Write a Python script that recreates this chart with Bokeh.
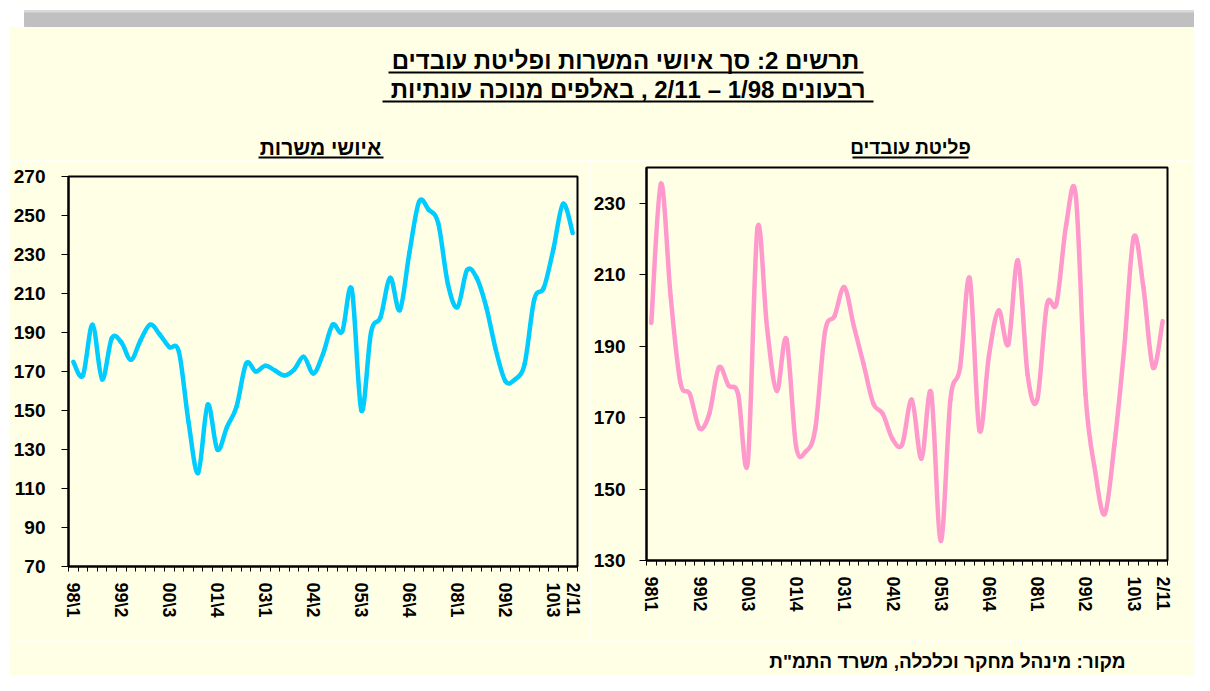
from bokeh.plotting import figure
from bokeh.layouts import column, row
from bokeh.models import Range1d, FixedTicker, Spacer
from bokeh.core.properties import value
from bokeh.embed import file_html
from bokeh.resources import INLINE

# ---------------- data ----------------
title_line1 = "תרשים 2: סך איושי המשרות ופליטת עובדים"
title_line2 = "רבעונים 1/98 – 2/11 , באלפים מנוכה עונתיות"
left_title = "איושי משרות"
right_title = "פליטת עובדים"
source_text = 'מקור: מינהל מחקר וכלכלה, משרד התמ"ת'

tick_labels = ["98\\1", "99\\2", "00\\3", "01\\4", "03\\1", "04\\2",
               "05\\3", "06\\4", "08\\1", "09\\2", "10\\3", "2/11"]

# איושי משרות (thousands, seasonally adjusted)
staffing = [175, 168, 194, 166, 187, 185, 176, 186, 194, 189,
            182.5, 180, 144, 118, 153, 130, 141.5, 152, 174, 170,
            173, 170.5, 168, 171, 177.5, 169, 179, 194, 190.5, 212,
            150, 190, 198, 218, 201.5, 231, 257, 253, 246, 215,
            203, 222, 218, 203, 181, 165, 166, 174, 207, 213,
            233, 256, 241]

# פליטת עובדים (thousands, seasonally adjusted)
layoffs = [196.5, 235.5, 204, 180, 176.5, 167, 171, 184, 179, 176.5,
           157.5, 223, 195, 177.5, 192, 162, 160.5, 167, 194, 198.5,
           206.5, 195.5, 185, 174, 171, 164, 162.5, 175, 158.5, 177,
           135.5, 175, 184, 209, 166.5, 187.5, 200, 190.5, 214, 182,
           175, 201.5, 202, 224, 232, 176.5, 155, 143, 162.5, 189,
           220.5, 206.5, 184, 197]

staffing_yticks = list(range(70, 271, 20))
layoffs_yticks = list(range(130, 231, 20))

# ---------------- style ----------------
BG = "#FFFFE6"
FONT = "Liberation Sans"
CYAN = "#00CCFF"
PINK = "#FF99CC"
W = 1185     # content width (page x 9 .. 1194)


def smooth(ys):
    n = len(ys)
    xs = list(range(n))
    d = dict(x0=[], y0=[], x1=[], y1=[], cx0=[], cy0=[], cx1=[], cy1=[])
    for i in range(n - 1):
        a = i - 1 if i > 0 else i
        b = i + 2 if i + 2 < n else i + 1
        d["x0"].append(xs[i]); d["y0"].append(ys[i])
        d["x1"].append(xs[i + 1]); d["y1"].append(ys[i + 1])
        d["cx0"].append(xs[i] + (xs[i + 1] - xs[a]) / 6.0)
        d["cy0"].append(ys[i] + (ys[i + 1] - ys[a]) / 6.0)
        d["cx1"].append(xs[i + 1] - (xs[b] - xs[i]) / 6.0)
        d["cy1"].append(ys[i + 1] - (ys[b] - ys[i]) / 6.0)
    return d


def chart(data, yticks, ymin, ymax, color, width, height, bl, br, bt, bb, ystandoff):
    n = len(data)
    p = figure(width=width, height=height, toolbar_location=None,
               output_backend="svg",
               x_range=Range1d(-0.5, n - 0.5), y_range=Range1d(ymin, ymax),
               min_border_left=bl, min_border_right=br,
               min_border_top=bt, min_border_bottom=bb)
    p.background_fill_color = BG
    p.border_fill_color = BG
    p.outline_line_color = "black"
    p.outline_line_width = 2
    p.grid.visible = False

    label_pos = list(range(0, n - 2, 5)) + [n - 1]
    p.xaxis.ticker = FixedTicker(ticks=label_pos,
                                 minor_ticks=[i - 0.5 for i in range(n + 1)])
    p.xaxis.major_label_overrides = {k: lab for k, lab in zip(label_pos, tick_labels)}
    p.xaxis.major_label_orientation = "vertical"
    p.xaxis.major_tick_line_color = None
    p.xaxis.major_tick_out = 5
    p.xaxis.major_tick_in = 0
    p.xaxis.minor_tick_line_color = "black"
    p.xaxis.minor_tick_line_width = 1
    p.xaxis.minor_tick_out = 5
    p.xaxis.minor_tick_in = 0
    p.xaxis.major_label_standoff = 11
    p.xaxis.major_label_text_font_size = "18px"

    p.yaxis.ticker = FixedTicker(ticks=yticks)
    p.yaxis.major_tick_out = 7
    p.yaxis.major_tick_in = 0
    p.yaxis.minor_tick_line_color = None
    p.yaxis.major_tick_line_color = "black"
    p.yaxis.major_label_standoff = ystandoff
    p.yaxis.major_label_text_font_size = "19px"

    for ax in (p.xaxis, p.yaxis):
        ax.axis_line_color = "black"
        ax.axis_line_width = 2
        ax.major_label_text_font = FONT
        ax.major_label_text_font_style = "bold"
        ax.major_label_text_color = "black"

    p.bezier(line_color=color, line_width=4.5, line_cap="round",
             **smooth(data))
    return p


def blank(width, height):
    f = figure(width=width, height=height, toolbar_location=None, output_backend="svg",
               x_range=Range1d(0, width), y_range=Range1d(height, 0),
               x_axis_type=None, y_axis_type=None,
               min_border_left=0, min_border_right=0, min_border_top=0, min_border_bottom=0)
    f.background_fill_color = BG
    f.border_fill_color = BG
    f.outline_line_color = None
    f.grid.visible = False
    return f


# ---------------- top (titles) ----------------
top = blank(W, 160)
top.quad(left=[0], right=[W], bottom=[0], top=[26], color="white")
top.quad(left=[15], right=[W], bottom=[10], top=[26], color="#C0C0C0")
top.quad(left=[15], right=[W], bottom=[10], top=[11.5], color="#DADADA")

txt = dict(text_font=value(FONT), text_font_style="bold", text_color="black",
           text_align="center", text_baseline="middle")
top.text(x=[616], y=[60], text=[title_line1], text_font_size="24px", **txt)
top.text(x=[618], y=[89], text=[title_line2], text_font_size="24px", **txt)
top.text(x=[311], y=[147], text=[left_title], text_font_size="21px", **txt)
top.text(x=[901], y=[147], text=[right_title], text_font_size="19px", **txt)
top.segment(x0=[379, 373, 249, 843], x1=[854, 864, 374, 959],
            y0=[72, 101, 157, 157], y1=[72, 101, 157, 157],
            line_color="black", line_width=2)

# ---------------- charts ----------------
left = chart(staffing, staffing_yticks, 70, 270, CYAN, 581, 480, 59, 13, 16, 74, 16)
right = chart(layoffs, layoffs_yticks, 130, 240, PINK, 604, 480, 56, 27, 7, 80, 14)

# ---------------- bottom (source) ----------------
bottom = blank(W, 35)
bottom.text(x=[1116], y=[21], text=[source_text], text_font=value(FONT),
            text_font_style="bold", text_font_size="19px", text_color="black",
            text_align="right", text_baseline="middle")

layout = row(Spacer(width=9, height=675),
             column(top, row(column(left), column(right)), bottom))
open("out.html", "w").write(file_html(layout, INLINE))
